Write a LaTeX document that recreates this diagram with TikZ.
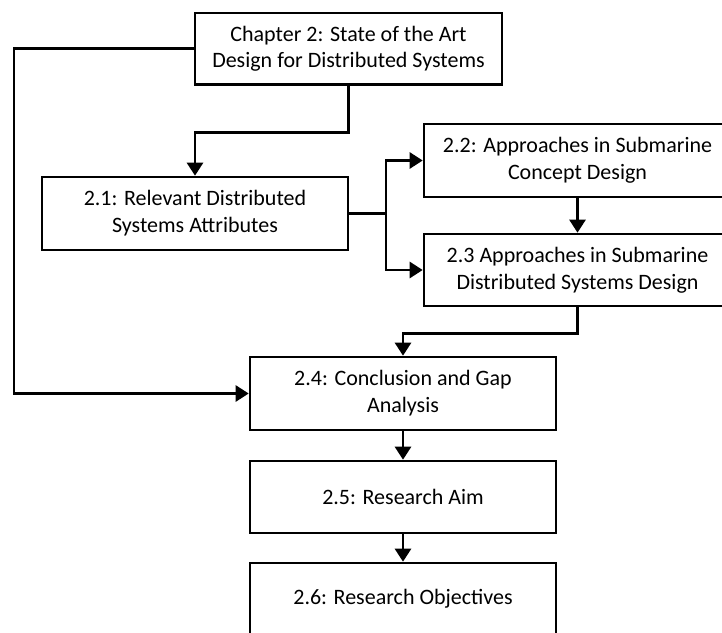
\documentclass[tikz,border=0pt]{standalone}
\usepackage{fontspec}
\setmainfont{Carlito}
\usetikzlibrary{arrows.meta}
\begin{document}
\begin{tikzpicture}[x=1pt,y=-1pt,
  box/.style={draw=black,line width=2.6pt,fill=white,inner sep=0pt,align=center,
    font=\fontsize{22}{26.8}\selectfont},
  conn/.style={line width=2.6pt,line join=miter},
  arr/.style={conn,-{Triangle[length=13pt,width=16pt]}}]
\useasboundingbox (0,0) rectangle (722,632);
\clip (0,0) rectangle (722,632);
\node[box,minimum width=307pt,minimum height=71.5pt] (ch) at (348.5,48.75) {Chapter 2: State of the Art\\Design for Distributed Systems};
\node[box,minimum width=306pt,minimum height=73pt] (b21) at (195,213.5) {2.1: Relevant Distributed\\Systems Attributes};
\node[box,minimum width=307pt,minimum height=73pt] (b22) at (577.5,160.5) {2.2: Approaches in Submarine\\Concept Design};
\node[box,minimum width=307pt,minimum height=72pt] (b23) at (577.5,270) {2.3 Approaches in Submarine\\Distributed Systems Design};
\node[box,minimum width=306pt,minimum height=73pt] (b24) at (403,393.5) {2.4: Conclusion and Gap\\Analysis};
\node[box,minimum width=306pt,minimum height=72pt] (b25) at (403,497) {2.5: Research Aim};
\node[box,minimum width=306pt,minimum height=71pt] (b26) at (403,598.5) {2.6: Research Objectives};
\coordinate (lft) at (14,48.75);
\coordinate (fork) at (386,213.5);
\draw[arr] (ch.south) -- ++(0,46.5) -| (b21.north);
\draw[arr] (ch.west) -- (lft) |- (b24.west);
\draw[conn] (b21.east) -- (fork);
\draw[arr] (fork) |- (b22.west);
\draw[arr] (fork) |- (b23.west);
\draw[arr] (b22.south) -- (b23.north);
\draw[arr] (b23.south) -- ++(0,26) -| (b24.north);
\draw[arr] (b24.south) -- (b25.north);
\draw[arr] (b25.south) -- (b26.north);
\end{tikzpicture}
\end{document}
